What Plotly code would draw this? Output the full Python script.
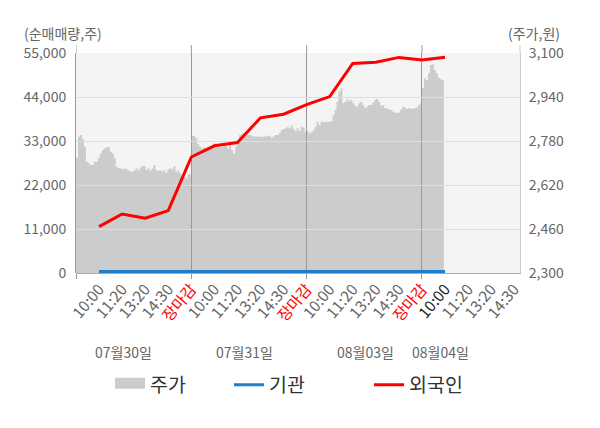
import plotly.graph_objects as go

# ---------------- data ----------------
dates = ["07월30일", "07월31일", "08월03일", "08월04일"]
time_labels = ["10:00", "11:20", "13:20", "14:30", "장마감",
               "10:00", "11:20", "13:20", "14:30", "장마감",
               "10:00", "11:20", "13:20", "14:30", "장마감",
               "10:00", "11:20", "13:20", "14:30"]

# 주가 (원), intraday, one value per sample
price_d1 = [2719, 2796, 2802, 2786, 2759, 2705, 2699, 2693, 2693, 2705,
            2705, 2718, 2735, 2747, 2753, 2757, 2757, 2741, 2735, 2717,
            2686, 2681, 2681, 2677, 2679, 2679, 2674, 2668, 2668, 2674,
            2681, 2674, 2684, 2689, 2689, 2674, 2681, 2672, 2681, 2693,
            2674, 2672, 2674, 2668, 2674, 2665, 2677, 2681, 2677, 2689,
            2668, 2674, 2662, 2653, 2650, 2644, 2659]
price_d2 = [2798, 2798, 2790, 2768, 2759, 2753, 2756, 2753, 2759, 2756,
            2762, 2772, 2768, 2763, 2759, 2759, 2763, 2763, 2753, 2765,
            2747, 2735, 2759, 2777, 2802, 2804, 2808, 2796, 2802, 2802,
            2799, 2796, 2796, 2796, 2796, 2795, 2796, 2796, 2799, 2799,
            2792, 2796, 2802, 2802, 2808, 2820, 2824, 2826, 2832, 2826,
            2836, 2824, 2816, 2826, 2816, 2832, 2829, 2814]
price_d3 = [2816, 2808, 2812, 2820, 2832, 2850, 2838, 2850, 2848, 2850,
            2850, 2850, 2852, 2874, 2893, 2923, 2959, 2972, 2917, 2923,
            2932, 2925, 2929, 2917, 2908, 2905, 2917, 2923, 2911, 2899,
            2905, 2911, 2911, 2919, 2929, 2933, 2923, 2908, 2911, 2899,
            2899, 2895, 2893, 2887, 2884, 2881, 2884, 2895, 2905, 2902,
            2896, 2899, 2896, 2899, 2899, 2902, 2911, 2917]
price_d4 = [2972, 3008, 3002, 3026, 3056, 3059, 3038, 3026, 3010, 3005,
            3002, 3010]

# 순매매량 (주), cumulative, one value per tick slot (10:00 of day 1 onward)
institution = [400, 400, 400, 400, 400, 400, 400, 400,
               400, 400, 400, 400, 400, 400, 400, 400]
foreign = [11600, 14750, 13700, 15600, 29000, 31800, 32600, 38800,
           39700, 42100, 44100, 52400, 52700, 53900, 53250, 53950]

left_ticks = [0, 11000, 22000, 33000, 44000, 55000]
right_ticks = [2300, 2460, 2620, 2780, 2940, 3100]

# ---------------- positions / styles ----------------
SLOTS_PER_DAY = 5
SAMPLE_STEP = 5 / 58          # slot width of one price sample
X_MAX = 19.25
date_label_x = [2.08, 7.32, 12.53, 15.80]
FONT = "Noto Sans CJK KR"
GRAY = "#666666"
AREA = "#cccccc"

price_x, price_y = [], []
for d, day in enumerate([price_d1, price_d2, price_d3, price_d4]):
    for i, v in enumerate(day):
        price_x.append(d * SLOTS_PER_DAY + i * SAMPLE_STEP)
        price_y.append(v)
slot_x = list(range(1, len(foreign) + 1))

ticktext = []
for i, t in enumerate(time_labels):
    if t == "장마감":
        ticktext.append('<span style="color:#ff0000">%s</span>' % t)
    elif i == 15:
        ticktext.append('<span style="color:#222222">%s</span>' % t)
    else:
        ticktext.append(t)
tickvals = list(range(1, len(time_labels) + 1))

fig = go.Figure()
fig.add_trace(go.Scatter(
    x=price_x, y=price_y, xaxis="x", yaxis="y", name="주가",
    mode="lines", line=dict(width=0, shape="hv"),
    fill="tozeroy", fillcolor=AREA, showlegend=False, hoverinfo="skip"))
# legend swatch for 주가 (no data drawn)
fig.add_trace(go.Scatter(
    x=[None], y=[None], xaxis="x", yaxis="y", name="주가",
    mode="lines", line=dict(width=10, color=AREA), fill="toself",
    fillcolor=AREA, legend="legend"))
fig.add_trace(go.Scatter(
    x=slot_x, y=institution, xaxis="x2", yaxis="y2", name="기관",
    mode="lines", line=dict(color="#1a7fd0", width=3), legend="legend2"))
fig.add_trace(go.Scatter(
    x=slot_x, y=foreign, xaxis="x2", yaxis="y2", name="외국인",
    mode="lines", line=dict(color="#ff0000", width=3), legend="legend3"))

tickfont = dict(family=FONT, size=14, color=GRAY)
fig.update_layout(
    width=600, height=428,
    margin=dict(l=68, r=88, t=45, b=162.5),
    paper_bgcolor="white", plot_bgcolor="rgba(0,0,0,0)",
    font=dict(family=FONT, size=14, color=GRAY),
    xaxis=dict(domain=[0, 1], anchor="y", range=[0, X_MAX],
               tickvals=tickvals, ticktext=ticktext, tickangle=-50,
               tickfont=dict(family=FONT, size=15.5, color=GRAY),
               showgrid=False, zeroline=False,
               showline=True, linecolor="#aaaaaa", ticks=""),
    yaxis=dict(domain=[0, 1], anchor="x", side="right",
               range=[right_ticks[0], right_ticks[-1]], tickvals=right_ticks,
               tickformat=",", tickfont=tickfont, showgrid=False,
               zeroline=False, showline=True, linecolor="#cccccc",
               ticks="", ticklabelstandoff=5),
    xaxis2=dict(domain=[0, 1], anchor="y2", range=[0, X_MAX],
                tickvals=[0, 5, 10, 15], showticklabels=False,
                showgrid=True, gridcolor="#999999", gridwidth=1,
                ticks="outside", ticklen=5, tickcolor="#999999",
                zeroline=False, showline=False),
    yaxis2=dict(domain=[0, 1], anchor="x2", side="left",
                range=[left_ticks[0], left_ticks[-1]], tickvals=left_ticks,
                tickformat=",", tickfont=tickfont, showgrid=True,
                gridcolor="#dddddd", gridwidth=1, zeroline=False,
                showline=True, linecolor="#999999", ticks="",
                ticklabelstandoff=6),
    showlegend=True,
)

legend_common = dict(orientation="h", y=-0.509, yanchor="middle",
                     xanchor="left", bgcolor="rgba(0,0,0,0)",
                     font=dict(family=FONT, size=19.5, color="#333333"))
fig.update_layout(
    legend=dict(x=(110 - 76) / 444, **legend_common),
    legend2=dict(x=(229 - 76) / 444, **legend_common),
    legend3=dict(x=(369 - 76) / 444, **legend_common),
)

shapes = [dict(type="rect", xref="paper", yref="paper", x0=0, x1=1, y0=0, y1=1,
               layer="below", fillcolor="#f4f4f4", line=dict(width=0))]
# axis line extensions above the plot area
for xv in [0, 5, 10, 15]:
    shapes.append(dict(type="line", xref="x2", yref="paper", x0=xv, x1=xv,
                       y0=1, y1=1.036, line=dict(color="#999999", width=1)))
shapes.append(dict(type="line", xref="paper", yref="paper", x0=1, x1=1,
                   y0=1, y1=1.036, line=dict(color="#cccccc", width=1)))
fig.update_layout(shapes=shapes)

annotations = [
    dict(text="(순매매량,주)", xref="paper", yref="paper", x=-0.1216, y=1.09,
         xanchor="left", yanchor="middle", showarrow=False,
         font=dict(family=FONT, size=14, color=GRAY)),
    dict(text="(주가,원)", xref="paper", yref="paper", x=1.0946, y=1.09,
         xanchor="right", yanchor="middle", showarrow=False,
         font=dict(family=FONT, size=14, color=GRAY)),
]
for dx, dl in zip(date_label_x, dates):
    annotations.append(dict(text=dl, xref="x", yref="paper", x=dx, y=-0.359,
                            xanchor="center", yanchor="middle", showarrow=False,
                            font=dict(family=FONT, size=14, color=GRAY)))
fig.update_layout(annotations=annotations)

fig.write_html("out.html")
